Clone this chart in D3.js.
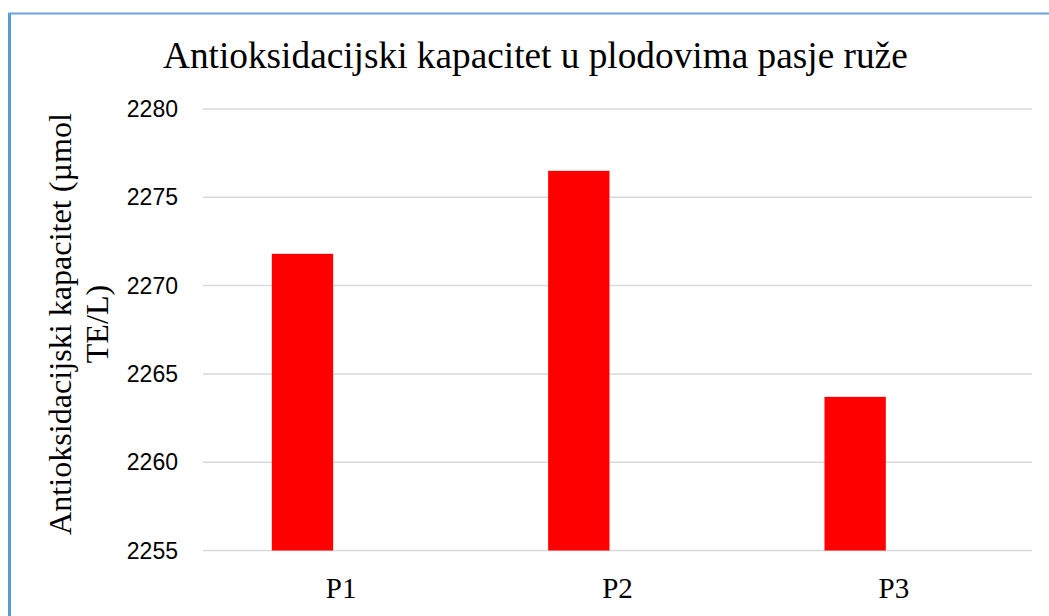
<!DOCTYPE html>
<html>
<head>
<meta charset="utf-8">
<script src="https://cdn.jsdelivr.net/npm/d3@7"></script>
<style>
  html, body { margin: 0; padding: 0; background: #fff; }
  svg { display: block; }
</style>
</head>
<body>
<svg id="chart" width="1049" height="616"></svg>
<script>
const categories = ["P1", "P2", "P3"];
const values = [2271.8, 2276.5, 2263.7];
const yTicks = [2255, 2260, 2265, 2270, 2275, 2280];
const title = "Antioksidacijski kapacitet u plodovima pasje ruže";
const yTitleLines = ["Antioksidacijski kapacitet (µmol", "TE/L)"];

const svg = d3.select("#chart");

// outer frame (left and top edges visible)
svg.append("line").attr("x1", 9.5).attr("x2", 9.5).attr("y1", 13).attr("y2", 616)
  .attr("stroke", "#5b9bd5").attr("stroke-width", 3);
svg.append("line").attr("x1", 8).attr("x2", 1049).attr("y1", 13.5).attr("y2", 13.5)
  .attr("stroke", "#6aa3dc").attr("stroke-width", 2);

const plot = { left: 203, right: 1032, top: 109, bottom: 550.5 };

const x = d3.scaleBand().domain(categories).range([plot.left, plot.right]).paddingInner(0).paddingOuter(0);
const y = d3.scaleLinear().domain([2255, 2280]).range([plot.bottom, plot.top]);

// gridlines
svg.append("g").selectAll("line").data(yTicks).join("line")
  .attr("x1", plot.left).attr("x2", plot.right)
  .attr("y1", d => y(d)).attr("y2", d => y(d))
  .attr("stroke", "#d9d9d9").attr("stroke-width", 1.5);

// y tick labels
svg.append("g").selectAll("text").data(yTicks).join("text")
  .attr("x", 178).attr("y", d => y(d))
  .attr("text-anchor", "end").attr("dominant-baseline", "central")
  .attr("font-family", "'Liberation Sans', Arial, sans-serif")
  .attr("font-size", 23).attr("fill", "#000")
  .text(d => d);

// bars (first of two series slots in each category)
const bw = x.bandwidth();
svg.append("g").selectAll("rect").data(categories).join("rect")
  .attr("x", (d) => x(d) + bw * 0.249)
  .attr("width", bw * 0.222)
  .attr("y", (d, i) => y(values[i]))
  .attr("height", (d, i) => y(2255) - y(values[i]))
  .attr("fill", "#ff0000");

// x labels
svg.append("g").selectAll("text").data(categories).join("text")
  .attr("x", d => x(d) + bw / 2).attr("y", 598)
  .attr("text-anchor", "middle")
  .attr("font-family", "'Liberation Serif', 'Times New Roman', serif")
  .attr("font-size", 29).attr("fill", "#000")
  .text(d => d);

// title
const t = svg.append("text")
  .attr("x", 163).attr("y", 68)
  .attr("font-family", "'Liberation Serif', 'Times New Roman', serif")
  .attr("font-size", 34).attr("fill", "#000")
  .text(title);
const tw = t.node().getComputedTextLength();
t.attr("font-size", 34 * 745 / tw);

// y axis title
const yt = svg.append("text")
  .attr("transform", "translate(0,324) rotate(-90)")
  .attr("text-anchor", "middle")
  .attr("font-family", "'Liberation Serif', 'Times New Roman', serif")
  .attr("font-size", 29).attr("fill", "#000");
yt.selectAll("tspan").data(yTitleLines).join("tspan")
  .attr("x", 0)
  .attr("y", (d, i) => 71 + i * 37)
  .text(d => d);
const l1 = yt.select("tspan").node().getComputedTextLength();
yt.attr("font-size", 29 * 422 / l1);
</script>
</body>
</html>
